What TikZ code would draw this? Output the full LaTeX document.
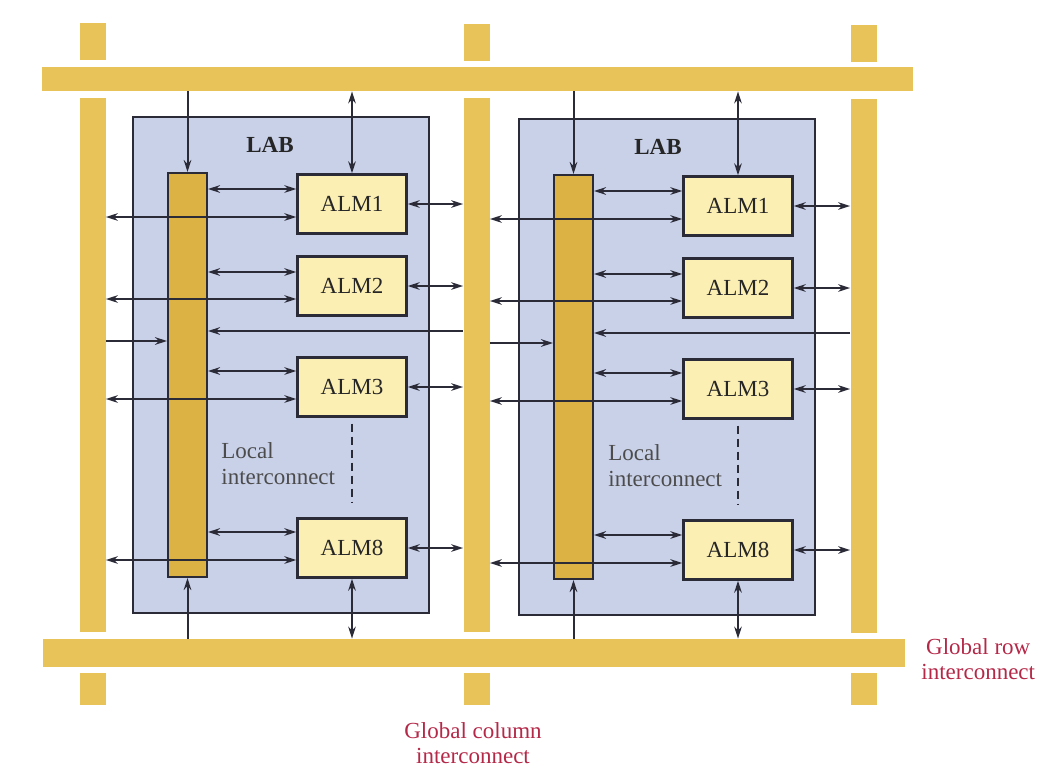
\documentclass[tikz,border=0pt]{standalone}
\usepackage{fontspec}
\setmainfont{Liberation Serif}
\usetikzlibrary{arrows.meta,calc,positioning}
\definecolor{barYellow}{HTML}{E8C35A}
\definecolor{colYellow}{HTML}{DDB244}
\definecolor{almFill}{HTML}{FCEFB3}
\definecolor{labFill}{HTML}{C9D1E9}
\definecolor{labelRed}{HTML}{B42848}
\definecolor{wireGrey}{HTML}{2B2B38}
\tikzstyle{ndbar} = [fill=barYellow, draw=none, shape=rectangle, inner sep=0pt]
\tikzstyle{ndvbar} = [ndbar, minimum width=13pt]
\tikzstyle{ndlab} = [draw=wireGrey, line width=1pt, fill=labFill, shape=rectangle, minimum width=148pt, minimum height=248pt, inner sep=0pt]
\tikzstyle{ndcol} = [draw=wireGrey, line width=1pt, fill=colYellow, shape=rectangle, minimum width=19.5pt, minimum height=202pt, inner sep=0pt]
\tikzstyle{ndalm} = [draw=wireGrey, line width=1.2pt, fill=almFill, shape=rectangle, minimum width=54.5pt, minimum height=29.5pt, inner sep=0pt, font=\fontsize{11.5}{13}\selectfont, text=black!85]
\tikzstyle{txlab} = [inner sep=0pt, font=\fontsize{11.5}{13}\selectfont\bfseries, text=black!85]
\tikzstyle{txloc} = [inner sep=0pt, anchor=west, align=left, font=\fontsize{11.5}{13}\selectfont, text=black!70]
\tikzstyle{txred} = [inner sep=0pt, align=center, font=\fontsize{11.5}{12.5}\selectfont, text=labelRed]
\tikzstyle{arone} = [style={-{Stealth[length=6pt,width=3.8pt]},line width=1pt,wireGrey}]
\tikzstyle{artwo} = [style={{Stealth[length=6pt,width=3.8pt]}-{Stealth[length=6pt,width=3.8pt]},line width=1pt,wireGrey}]
\tikzstyle{ardash} = [style={dash pattern=on 4pt off 2.5pt,line width=0.8pt,wireGrey,shorten <=3pt,shorten >=7pt}]

\begin{document}
\begin{tikzpicture}[x=0.5pt, y=-0.5pt]
	\useasboundingbox (0,0) rectangle (1040,766);
	% global interconnect bars
	\node[ndvbar, minimum height=18.5pt] (vAt) at (92.5,41.5) {};
	\node[ndvbar, minimum height=267pt] (vA) at (92.5,365) {};
	\node[ndvbar, minimum height=16pt] (vAb) at (92.5,689) {};
	\node[ndvbar, minimum height=18.5pt] (vBt) at (476.5,42) {};
	\node[ndvbar, minimum height=267pt] (vB) at (476.5,365) {};
	\node[ndvbar, minimum height=16pt] (vBb) at (476.5,689) {};
	\node[ndvbar, minimum height=18.5pt] (vCt) at (863.5,43) {};
	\node[ndvbar, minimum height=267pt] (vC) at (863.5,366) {};
	\node[ndvbar, minimum height=16pt] (vCb) at (863.5,689) {};
	\node[ndbar, minimum width=435.5pt, minimum height=12pt] (rowT) at (477.5,79) {};
	\node[ndbar, minimum width=431pt, minimum height=14pt] (rowB) at (474,653) {};
	% logic array blocks
	\node[ndlab] (lab1) at (281,365) {};
	\node[ndlab] (lab2) at (667,367) {};
	\node[txlab] (lt1) at (270,145) {LAB};
	\node[txlab] (lt2) at (658,147) {LAB};
	\node[ndcol] (li1) at (187.5,375) {};
	\node[ndcol] (li2) at (573.5,377) {};
	\node[txloc] (lc1) at (221,464) {Local\\interconnect};
	\node[txloc] (lc2) at (608,466) {Local\\interconnect};
	\node[ndalm] (a11) at (352,204) {ALM1};
	\node[ndalm] (a12) at (352,286) {ALM2};
	\node[ndalm] (a13) at (352,387) {ALM3};
	\node[ndalm] (a18) at (352,548) {ALM8};
	\node[ndalm] (a21) at (738,206) {ALM1};
	\node[ndalm] (a22) at (738,288) {ALM2};
	\node[ndalm] (a23) at (738,389) {ALM3};
	\node[ndalm] (a28) at (738,550) {ALM8};
	\node[txred, anchor=west] (grow) at (921,659) {Global row\\interconnect};
	\node[txred] (gcol) at (473,743) {Global column\\interconnect};
	% left LAB
	\draw[arone] (rowT.south -| li1.north) -- (li1.north);
	\draw[artwo] (rowT.south -| a11.north) -- (a11.north);
	\draw[artwo] ($(li1.east |- a11.west)+(0,-15)$) -- ($(a11.west)+(0,-15)$);
	\draw[artwo] ($(vA.east |- a11.west)+(0,13)$) -- ($(a11.west)+(0,13)$);
	\draw[artwo] (a11.east) -- (vB.west |- a11.east);
	\draw[artwo] ($(li1.east |- a12.west)+(0,-14)$) -- ($(a12.west)+(0,-14)$);
	\draw[artwo] ($(vA.east |- a12.west)+(0,13)$) -- ($(a12.west)+(0,13)$);
	\draw[artwo] (a12.east) -- (vB.west |- a12.east);
	\draw[arone] (vB.west |- 0,331) -- (li1.east |- 0,331);
	\draw[arone] (vA.east |- 0,341) -- (li1.west |- 0,341);
	\draw[artwo] ($(li1.east |- a13.west)+(0,-16)$) -- ($(a13.west)+(0,-16)$);
	\draw[artwo] ($(vA.east |- a13.west)+(0,12)$) -- ($(a13.west)+(0,12)$);
	\draw[artwo] (a13.east) -- (vB.west |- a13.east);
	\draw[ardash] (a13.south) -- (a18.north);
	\draw[artwo] ($(li1.east |- a18.west)+(0,-16)$) -- ($(a18.west)+(0,-16)$);
	\draw[artwo] ($(vA.east |- a18.west)+(0,12)$) -- ($(a18.west)+(0,12)$);
	\draw[artwo] (a18.east) -- (vB.west |- a18.east);
	\draw[arone] (rowB.north -| li1.south) -- (li1.south);
	\draw[artwo] (a18.south) -- (rowB.north -| a18.south);
	% right LAB
	\draw[arone] (rowT.south -| li2.north) -- (li2.north);
	\draw[artwo] (rowT.south -| a21.north) -- (a21.north);
	\draw[artwo] ($(li2.east |- a21.west)+(0,-15)$) -- ($(a21.west)+(0,-15)$);
	\draw[artwo] ($(vB.east |- a21.west)+(0,13)$) -- ($(a21.west)+(0,13)$);
	\draw[artwo] (a21.east) -- (vC.west |- a21.east);
	\draw[artwo] ($(li2.east |- a22.west)+(0,-14)$) -- ($(a22.west)+(0,-14)$);
	\draw[artwo] ($(vB.east |- a22.west)+(0,13)$) -- ($(a22.west)+(0,13)$);
	\draw[artwo] (a22.east) -- (vC.west |- a22.east);
	\draw[arone] (vC.west |- 0,333) -- (li2.east |- 0,333);
	\draw[arone] (vB.east |- 0,343) -- (li2.west |- 0,343);
	\draw[artwo] ($(li2.east |- a23.west)+(0,-16)$) -- ($(a23.west)+(0,-16)$);
	\draw[artwo] ($(vB.east |- a23.west)+(0,12)$) -- ($(a23.west)+(0,12)$);
	\draw[artwo] (a23.east) -- (vC.west |- a23.east);
	\draw[ardash] (a23.south) -- (a28.north);
	\draw[artwo] ($(li2.east |- a28.west)+(0,-15)$) -- ($(a28.west)+(0,-15)$);
	\draw[artwo] ($(vB.east |- a28.west)+(0,13)$) -- ($(a28.west)+(0,13)$);
	\draw[artwo] (a28.east) -- (vC.west |- a28.east);
	\draw[arone] (rowB.north -| li2.south) -- (li2.south);
	\draw[artwo] (a28.south) -- (rowB.north -| a28.south);
\end{tikzpicture}
\end{document}
